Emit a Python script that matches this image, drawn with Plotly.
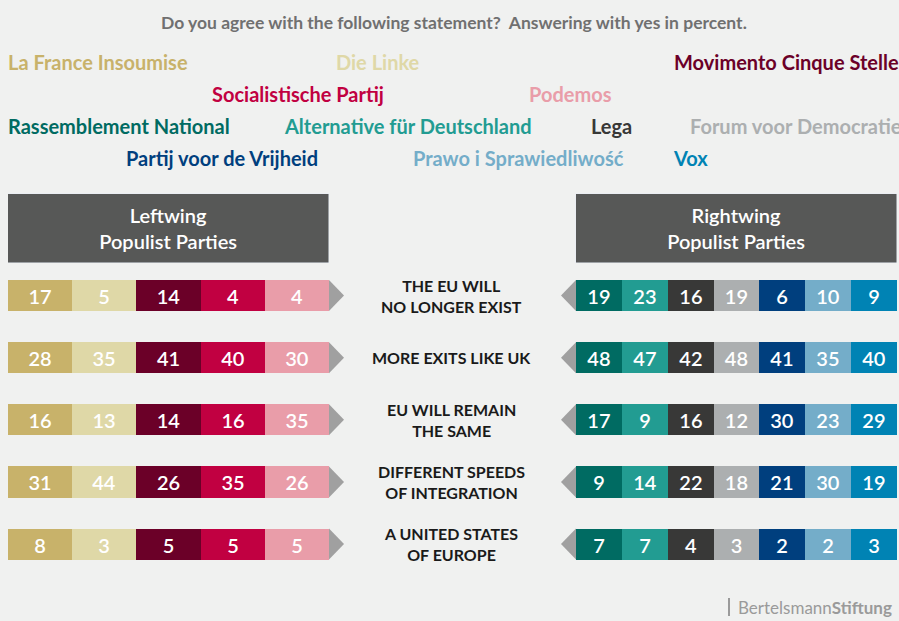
import plotly.graph_objects as go

# statements shown in the middle column
statements = ["THE EU WILL<br>NO LONGER EXIST", "MORE EXITS LIKE UK",
              "EU WILL REMAIN<br>THE SAME", "DIFFERENT SPEEDS<br>OF INTEGRATION",
              "A UNITED STATES<br>OF EUROPE"]

# leftwing parties, yes in percent per statement
left_parties = ["La France Insoumise", "Die Linke", "Movimento Cinque Stelle",
                "Socialistische Partij", "Podemos"]
lfi = [17, 28, 16, 31, 8]
linke = [5, 35, 13, 44, 3]
m5s = [14, 41, 14, 26, 5]
sp = [4, 40, 16, 35, 5]
podemos = [4, 30, 35, 26, 5]
left_values = [lfi, linke, m5s, sp, podemos]
left_colors = ["#c8b26a", "#dfd8a7", "#6b0028", "#c10041", "#e99da9"]

# rightwing parties
right_parties = ["Rassemblement National", "Alternative für Deutschland", "Lega",
                 "Forum voor Democratie", "Partij voor de Vrijheid",
                 "Prawo i Sprawiedliwość", "Vox"]
rn = [19, 48, 17, 9, 7]
afd = [23, 47, 9, 14, 7]
lega = [16, 42, 16, 22, 4]
fvd = [19, 48, 12, 18, 3]
pvv = [6, 41, 30, 21, 2]
pis = [10, 35, 23, 30, 2]
vox = [9, 40, 29, 19, 3]
right_values = [rn, afd, lega, fvd, pvv, pis, vox]
right_colors = ["#006b62", "#229c92", "#383837", "#acafb0", "#003f7e", "#74adc9", "#0083b4"]

W, H = 899, 621
BG = "#f0f1f0"
rows = list(range(len(statements)))
cell_font = dict(color="white", size=20, weight=600)

fig = go.Figure()

# header boxes
fig.add_trace(go.Bar(y=[-1.08], x=[len(left_parties)], width=[1.11], orientation="h",
                     marker_color="#575857", text=["Leftwing<br>Populist Parties"],
                     textposition="inside", insidetextanchor="middle", constraintext="none",
                     textfont=dict(color="white", size=20, weight=600), xaxis="x", yaxis="y"))
fig.add_trace(go.Bar(y=[-1.08], x=[len(right_parties)], width=[1.11], orientation="h",
                     marker_color="#575857", text=["Rightwing<br>Populist Parties"],
                     textposition="inside", insidetextanchor="middle", constraintext="none",
                     textfont=dict(color="white", size=20, weight=600), xaxis="x2", yaxis="y"))

# equal-width cells, one trace per party
for name, vals, col in zip(left_parties, left_values, left_colors):
    fig.add_trace(go.Bar(y=rows, x=[1] * len(rows), width=0.5, orientation="h",
                         name=name, marker=dict(color=col, line_width=0),
                         text=vals, textposition="inside", insidetextanchor="middle",
                         textfont=cell_font, constraintext="none",
                         xaxis="x", yaxis="y"))
for name, vals, col in zip(right_parties, right_values, right_colors):
    fig.add_trace(go.Bar(y=rows, x=[1] * len(rows), width=0.5, orientation="h",
                         name=name, marker=dict(color=col, line_width=0),
                         text=vals, textposition="inside", insidetextanchor="middle",
                         textfont=cell_font, constraintext="none",
                         xaxis="x2", yaxis="y"))

# gray arrow tips pointing to the statements
nl, nr = len(left_parties), len(right_parties)
for r in rows:
    fig.add_trace(go.Scatter(x=[nl, nl + 0.234, nl, nl], y=[r - 0.25, r, r + 0.25, r - 0.25],
                             mode="lines", fill="toself", fillcolor="#a0a0a0",
                             line_width=0, xaxis="x", yaxis="y", hoverinfo="skip"))
    fig.add_trace(go.Scatter(x=[0, -0.327, 0, 0], y=[r - 0.25, r, r + 0.25, r - 0.25],
                             mode="lines", fill="toself", fillcolor="#a0a0a0",
                             line_width=0, xaxis="x2", yaxis="y", hoverinfo="skip"))

annotations = []
for r, s in zip(rows, statements):
    annotations.append(dict(x=451 / W, xref="paper", y=r, yref="y", text="<b>" + s + "</b>",
                            showarrow=False, font=dict(size=16, color="#1a1a1a")))

annotations.append(dict(x=454 / W, y=1 - 22 / H, xref="paper", yref="paper", showarrow=False,
                        yanchor="middle",
                        text="<b>Do you agree with the following statement?  Answering with yes in percent.</b>",
                        font=dict(size=17.5, color="#707070")))

# coloured party names on top
legend_pos = {
    "La France Insoumise": (6, 62), "Die Linke": (334, 62), "Movimento Cinque Stelle": (672, 62),
    "Socialistische Partij": (210, 94), "Podemos": (527, 94),
    "Rassemblement National": (6, 126), "Alternative für Deutschland": (282, 126),
    "Lega": (589, 126), "Forum voor Democratie": (688, 126),
    "Partij voor de Vrijheid": (124, 158), "Prawo i Sprawiedliwość": (411, 158), "Vox": (671, 158),
}
for name, col in zip(left_parties + right_parties, left_colors + right_colors):
    px, py = legend_pos[name]
    annotations.append(dict(x=px / W, y=1 - py / H, xref="paper", yref="paper", xanchor="left",
                            yanchor="middle", showarrow=False, text="<b>" + name + "</b>",
                            font=dict(size=20, color=col)))

annotations.append(dict(x=736 / W, y=1 - 607 / H, xref="paper", yref="paper", xanchor="left",
                        yanchor="middle", showarrow=False, text="Bertelsmann<b>Stiftung</b>",
                        font=dict(size=17, color="#9a9a9a")))

fig.update_layout(
    width=W, height=H, margin=dict(l=0, r=0, t=0, b=0),
    paper_bgcolor=BG, plot_bgcolor=BG, barmode="stack", bargap=0,
    showlegend=False, font=dict(family="Lato"),
    xaxis=dict(domain=[8 / W, (8 + 64.2 * 5.25) / W], range=[0, 5.25], visible=False, fixedrange=True),
    xaxis2=dict(domain=[(576 - 0.35 * 45.86) / W, 897 / W], range=[-0.35, 7], visible=False,
                anchor="y", fixedrange=True),
    yaxis=dict(domain=[0, 1], range=[5.238, -4.758], visible=False, fixedrange=True),
    annotations=annotations,
    shapes=[dict(type="line", xref="paper", yref="paper", x0=729 / W, x1=729 / W,
                 y0=1 - 598 / H, y1=1 - 616 / H, line=dict(color="#9a9a9a", width=2))],
)

fig.write_html("out.html", config={"displayModeBar": False},
               post_script="document.body.style.margin='0';")
